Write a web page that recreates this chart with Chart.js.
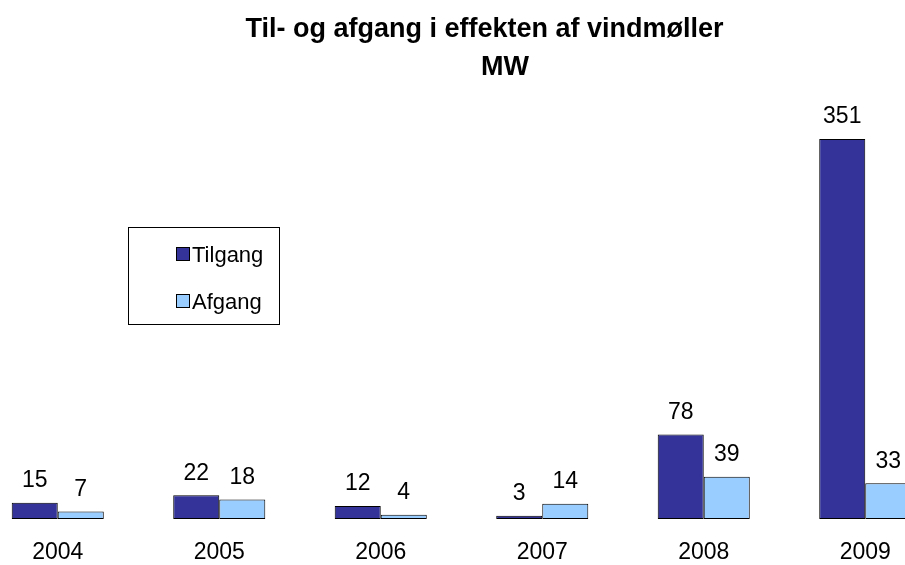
<!DOCTYPE html>
<html>
<head>
<meta charset="utf-8">
<script src="https://cdn.jsdelivr.net/npm/chart.js@4.4.1/dist/chart.umd.min.js"></script>
<style>
  html, body { margin: 0; padding: 0; background: #fff; overflow: hidden; }
  #wrap { position: absolute; left: -23px; top: 0; width: 969px; height: 565px; }
  #legend { position: absolute; left: 128px; top: 227px; width: 150px; height: 96px;
            border: 1px solid #000; font-family: "Liberation Sans", Arial, sans-serif; font-size: 22px; color: #000; }
  .item { position: absolute; left: 47px; height: 24px; line-height: 24px; white-space: nowrap; }
  .sw { display: inline-block; width: 12px; height: 12px; border: 1px solid #000; vertical-align: middle; margin-right: 2px; position: relative; top: -2px; }
</style>
</head>
<body>
<div id="wrap"><canvas id="c" width="969" height="565"></canvas></div>
<div id="legend"></div>
<script>
const titleLines = ["Til- og afgang i effekten af vindmøller", "MW"];
const categories = ["2004", "2005", "2006", "2007", "2008", "2009"];
const seriesNames = ["Tilgang", "Afgang"];
const tilgang = [15, 22, 12, 3, 78, 351];
const afgang = [7, 18, 4, 14, 39, 33];
const colors = ["#333399", "#99CCFF"];

const FONT = '"Liberation Sans", Arial, sans-serif';
const OFFX = 23;

const titlePlugin = {
  id: 'titleText',
  afterDraw(chart) {
    const ctx = chart.ctx;
    ctx.save();
    ctx.fillStyle = '#000';
    ctx.font = 'bold 27px ' + FONT;
    ctx.textAlign = 'center';
    ctx.textBaseline = 'middle';
    ctx.fillText(titleLines[0], 484.5 + OFFX, 30);
    ctx.fillText(titleLines[1], 505 + OFFX, 68);
    ctx.restore();
  }
};

const labelPlugin = {
  id: 'valueLabels',
  afterDatasetsDraw(chart) {
    const ctx = chart.ctx;
    ctx.save();
    ctx.fillStyle = '#000';
    ctx.font = '23px ' + FONT;
    ctx.textAlign = 'center';
    ctx.textBaseline = 'middle';
    chart.data.datasets.forEach((ds, i) => {
      chart.getDatasetMeta(i).data.forEach((bar, j) => {
        ctx.fillText(String(ds.data[j]), bar.x, bar.y - 22);
      });
    });
    ctx.restore();
  }
};

const chart = new Chart(document.getElementById('c'), {
  type: 'bar',
  data: {
    labels: categories,
    datasets: [
      { label: seriesNames[0], data: tilgang, backgroundColor: colors[0], borderColor: '#000', borderWidth: 1, borderSkipped: false },
      { label: seriesNames[1], data: afgang, backgroundColor: colors[1], borderColor: '#000', borderWidth: 1, borderSkipped: false }
    ]
  },
  options: {
    responsive: false,
    animation: false,
    layout: { padding: { top: 86, left: 0, right: 0, bottom: 0 } },
    datasets: { bar: { categoryPercentage: 0.57, barPercentage: 1.0 } },
    plugins: { legend: { display: false }, title: { display: false }, tooltip: { enabled: false } },
    scales: {
      x: {
        grid: { display: false, drawTicks: false },
        border: { display: false },
        ticks: { color: '#000', font: { family: FONT, size: 23 }, padding: 20 },
        afterFit(s) { s.height = 46; }
      },
      y: {
        display: false,
        min: 0,
        max: 400
      }
    }
  },
  plugins: [titlePlugin, labelPlugin]
});

const leg = document.getElementById('legend');
seriesNames.forEach((n, i) => {
  const d = document.createElement('div');
  d.className = 'item';
  d.style.top = (i === 0 ? 15 : 62) + 'px';
  const sw = document.createElement('span');
  sw.className = 'sw';
  sw.style.background = colors[i];
  d.appendChild(sw);
  d.appendChild(document.createTextNode(n));
  leg.appendChild(d);
});
</script>
</body>
</html>
